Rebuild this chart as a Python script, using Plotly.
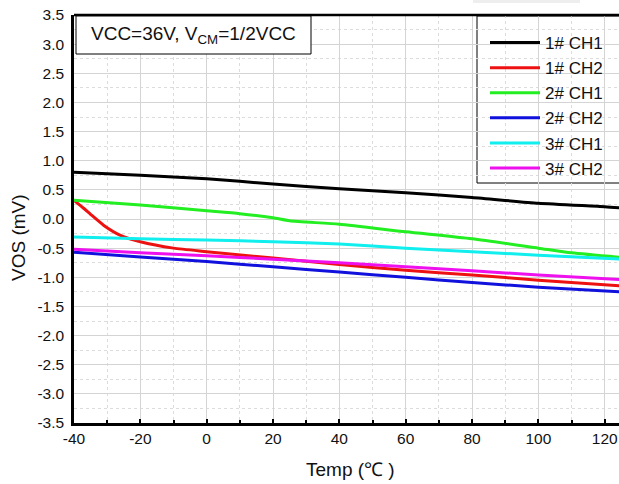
import plotly.graph_objects as go

# ---- data ----
t_1ch1 = [-40, -20, 0, 20, 40, 60, 80, 100, 120, 125]
v_1ch1 = [0.80, 0.75, 0.69, 0.60, 0.52, 0.45, 0.37, 0.27, 0.21, 0.19]

t_1ch2 = [-40, -37, -35, -31, -26, -20, -10, 0, 20, 40, 60, 80, 100, 125]
v_1ch2 = [0.32, 0.18, 0.08, -0.11, -0.28, -0.39, -0.50, -0.56, -0.67, -0.78, -0.88, -0.96, -1.05, -1.15]

t_2ch1 = [-40, -20, 0, 10, 20, 25, 40, 60, 80, 100, 110, 125]
v_2ch1 = [0.32, 0.24, 0.14, 0.09, 0.02, -0.03, -0.09, -0.22, -0.34, -0.50, -0.58, -0.66]

t_2ch2 = [-40, -20, 0, 20, 40, 60, 80, 100, 125]
v_2ch2 = [-0.57, -0.65, -0.73, -0.82, -0.91, -1.00, -1.09, -1.17, -1.25]

t_3ch1 = [-40, -20, 0, 20, 40, 60, 80, 100, 125]
v_3ch1 = [-0.31, -0.34, -0.36, -0.39, -0.43, -0.50, -0.56, -0.62, -0.69]

t_3ch2 = [-40, -20, 0, 20, 40, 60, 80, 100, 125]
v_3ch2 = [-0.52, -0.58, -0.63, -0.69, -0.75, -0.82, -0.89, -0.96, -1.04]

series_names = ["1# CH1", "1# CH2", "2# CH1", "2# CH2", "3# CH1", "3# CH2"]
series_colors = ["#000000", "#ee1111", "#22ee22", "#1111dd", "#11eeee", "#ee11ee"]
series_t = [t_1ch1, t_1ch2, t_2ch1, t_2ch2, t_3ch1, t_3ch2]
series_v = [v_1ch1, v_1ch2, v_2ch1, v_2ch2, v_3ch1, v_3ch2]

x_ticks = [-40, -20, 0, 20, 40, 60, 80, 100, 120]
y_ticks = [3.5, 3.0, 2.5, 2.0, 1.5, 1.0, 0.5, 0.0, -0.5, -1.0, -1.5, -2.0, -2.5, -3.0, -3.5]

FONT = "Liberation Sans, Arial, sans-serif"

# ---- geometry (page body margin is removed below, so figure fills the window) ----
W, H = 619, 484
L, T, R = 74, 15, 0
B = H - 423
PW, PH = W - L - R, H - T - B

def px(xp):  # xp in screenshot pixels
    return (xp - L) / PW

def py(yp):
    return 1 - (yp - T) / PH

fig = go.Figure()
for name, col, tt, vv in zip(series_names, series_colors, series_t, series_v):
    fig.add_trace(go.Scatter(
        x=tt, y=vv, mode="lines", name=name,
        line=dict(color=col, width=3, shape="spline", smoothing=0.6),
    ))

fig.update_layout(
    width=W, height=H,
    margin=dict(l=L, r=R, t=T, b=B, autoexpand=False),
    paper_bgcolor="white", plot_bgcolor="white",
    font=dict(family=FONT, size=15, color="#111111"),
    showlegend=True,
    legend=dict(
        x=px(485), y=py(25), xanchor="left", yanchor="top",
        bgcolor="rgba(0,0,0,0)", borderwidth=0,
        font=dict(family=FONT, size=17, color="#111111"),
        itemwidth=50, traceorder="normal",
    ),
)

fig.update_xaxes(
    range=[-40, 124.3], tickvals=x_ticks, ticktext=[str(v) for v in x_ticks],
    showline=True, linecolor="black", linewidth=2.5,
    ticks="inside", ticklen=4, tickwidth=1.5, tickcolor="black",
    showgrid=True, gridcolor="#d4d4d4", gridwidth=1,
    minor=dict(dtick=10, tick0=-40, ticks="inside", ticklen=3, tickcolor="black",
               showgrid=True, gridcolor="#dcdcdc", griddash="dot", gridwidth=1),
    zeroline=False, automargin=False, ticklabeloverflow="allow",
    tickfont=dict(family=FONT, size=15.5, color="#111111"),
)
fig.update_yaxes(
    range=[-3.5, 3.5], tickvals=y_ticks, ticktext=[f"{v:.1f}" for v in y_ticks],
    showline=True, linecolor="black", linewidth=2.5,
    ticks="", showgrid=True, gridcolor="#d4d4d4", gridwidth=1,
    minor=dict(dtick=0.25, tick0=0, showgrid=True, gridcolor="#dcdcdc", griddash="dot", gridwidth=1),
    zeroline=False, ticklabelstandoff=4, automargin=False, ticklabeloverflow="allow",
    tickfont=dict(family=FONT, size=15.5, color="#111111"),
)

shapes = [
    dict(type="line", xref="paper", yref="paper", x0=0, x1=1, y0=1, y1=1,
         line=dict(color="black", width=2.5)),
    dict(type="rect", xref="paper", yref="paper", x0=px(76), x1=px(311), y0=py(16), y1=py(54),
         line=dict(color="black", width=1), fillcolor="white", layer="above"),
    dict(type="rect", xref="paper", yref="paper", x0=px(477), x1=px(625), y0=py(16), y1=py(183),
         line=dict(color="black", width=1), fillcolor="white", layer="below"),
    dict(type="rect", xref="paper", yref="paper", x0=px(473), x1=px(580), y0=py(0), y1=py(3),
         line=dict(width=0), fillcolor="#eeeeee"),
]
fig.update_layout(shapes=shapes)

fig.add_annotation(
    xref="paper", yref="paper", x=px(193), y=py(35), xanchor="center", yanchor="middle",
    text="VCC=36V, V<sub>CM</sub>=1/2VCC", showarrow=False,
    font=dict(family=FONT, size=19, color="#111111"),
)
fig.add_annotation(
    xref="paper", yref="paper", x=px(350), y=py(469), xanchor="center", yanchor="middle",
    text="Temp (℃ )", showarrow=False,
    font=dict(family=FONT, size=19, color="#111111"),
)
fig.add_annotation(
    xref="paper", yref="paper", x=px(19), y=py(238), xanchor="center", yanchor="middle",
    text="VOS (mV)", showarrow=False, textangle=-90,
    font=dict(family=FONT, size=19, color="#111111"),
)

fig.write_html(
    "out.html",
    config={"displayModeBar": False},
    post_script="document.body.style.margin='0';document.body.style.overflow='hidden';",
)
